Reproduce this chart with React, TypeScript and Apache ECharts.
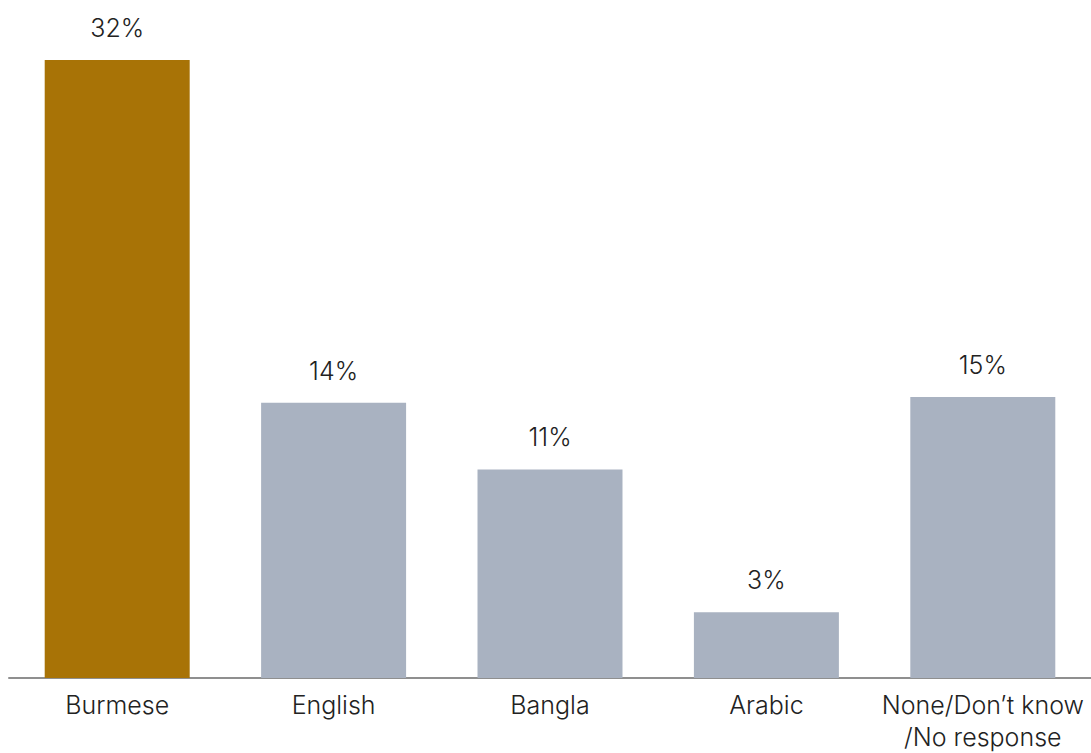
import React, { useEffect, useRef } from "react";
import * as echarts from "echarts";

const categories = ["Burmese", "English", "Bangla", "Arabic", "None/Don\u2019t know\n/No response"];
const values = [32.0, 14.25, 10.8, 3.4, 14.55];
const barColors = ["#A87306", "#A9B2C1", "#A9B2C1", "#A9B2C1", "#A9B2C1"];
const yMax = 34;

export default function App() {
  const ref = useRef<HTMLDivElement>(null);
  useEffect(() => {
    if (!ref.current) return;
    const chart = echarts.init(ref.current, null, { renderer: "svg" });
    const font = "Inter, 'Noto Sans', sans-serif";
    chart.setOption({
      animation: false,
      grid: { left: 9, right: 0, top: 21.4, bottom: 71 },
      xAxis: {
        type: "category",
        data: categories,
        axisLine: { show: true, lineStyle: { color: "#8f8f8f", width: 2 } },
        axisTick: { show: false },
        axisLabel: {
          color: "#222",
          fontFamily: font,
          fontWeight: 300,
          fontSize: 25,
          lineHeight: 32,
          margin: 11,
          interval: 0,
        },
      },
      yAxis: {
        type: "value",
        min: 0,
        max: yMax,
        show: false,
        splitLine: { show: false },
      },
      series: [
        {
          type: "bar",
          barWidth: "67%",
          data: values.map((v, i) => ({ value: v, itemStyle: { color: barColors[i] } })),
          label: {
            show: true,
            position: "top",
            distance: 16,
            color: "#222",
            fontFamily: font,
            fontWeight: 300,
            fontSize: 25,
            lineHeight: 32,
            formatter: (p: any) => Math.round(p.value) + "%",
          },
        },
      ],
    });
    return () => chart.dispose();
  }, []);
  return (
    <div
      ref={ref}
      style={{ position: "absolute", left: 0, top: 0, width: 1091, height: 753, background: "#fff" }}
    />
  );
}
